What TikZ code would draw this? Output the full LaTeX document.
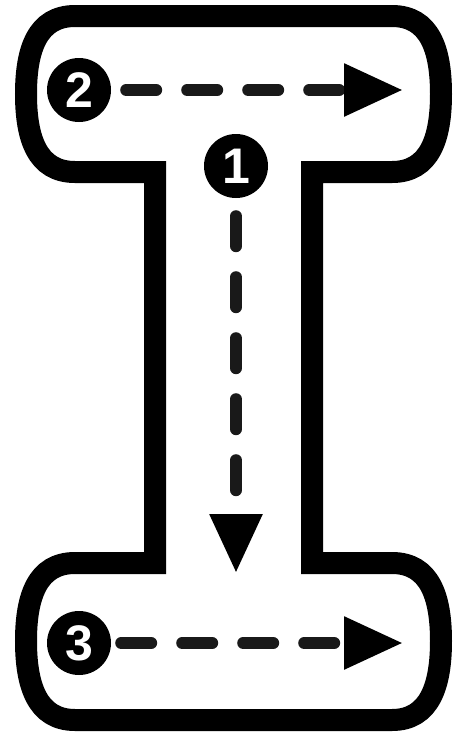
\documentclass[tikz,border=0pt]{standalone}
\usepackage{fontspec}
\setsansfont{Liberation Sans}
\usetikzlibrary{arrows.meta}

\begin{document}
\begin{tikzpicture}[x=1pt, y=-1pt,
  numdot/.style={circle, fill=black, minimum size=64pt, inner sep=0pt, text=white,
    font=\sffamily\bfseries\fontsize{50}{50}\selectfont},
  dasharrow/.style={black!90, line width=12pt, line cap=round, dash pattern=on 30pt off 31pt,
    -{Triangle[length=59pt, width=50pt, black]}}]
\useasboundingbox (0,0) rectangle (453,732);
% outline of the I
\draw[line width=22pt, miter limit=10] (75,16) -- (392,16)
  .. controls (430,16) and (441,50) .. (441,94)
  .. controls (441,138) and (430,172) .. (392,172) -- (312,172) -- (312,563) -- (392,563)
  .. controls (430,563) and (441,597) .. (441,641)
  .. controls (441,685) and (430,720) .. (392,720) -- (75,720)
  .. controls (37,720) and (26,685) .. (26,641)
  .. controls (26,597) and (37,563) .. (75,563) -- (155,563) -- (155,172) -- (75,172)
  .. controls (37,172) and (26,138) .. (26,94)
  .. controls (26,50) and (37,16) .. cycle;
% steps
\node[numdot] (n1) at (236,166) {1};
\node[numdot] (n2) at (79,90) {2};
\node[numdot] (n3) at (79,643) {3};
\coordinate (t1) at (236,573);
\coordinate (t2) at (403,90);
\coordinate (t3) at (403,643);
\draw[dasharrow] ([yshift=-18pt]n1.south) -- (t1);
\draw[dasharrow] ([xshift=15pt]n2.east) -- (t2);
\draw[dasharrow] ([xshift=10pt]n3.east) -- (t3);
\end{tikzpicture}
\end{document}
